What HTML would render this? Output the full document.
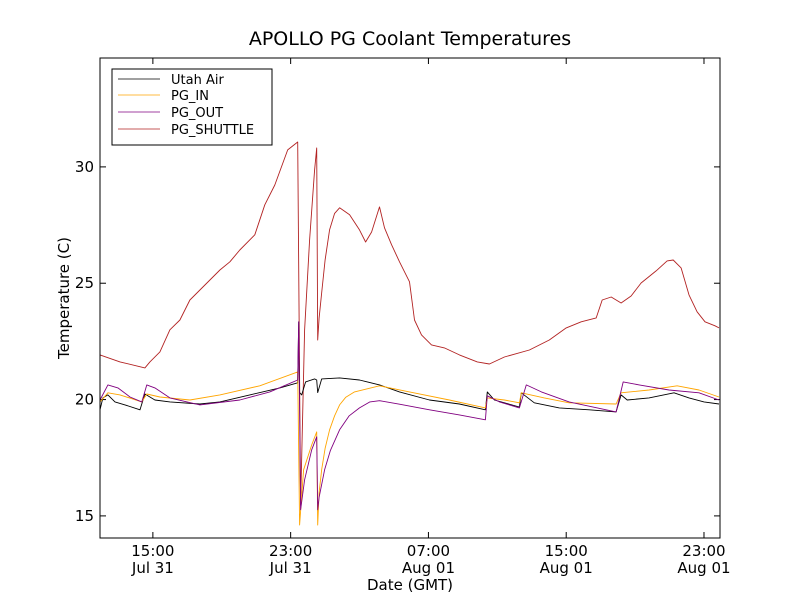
<!DOCTYPE html>
<html><head><meta charset="utf-8"><style>
body{margin:0;background:#fff;}
svg{display:block;font-family:"DejaVu Sans","Liberation Sans",sans-serif;}
</style></head><body>
<svg id="chart" width="800" height="600">
<rect width="800" height="600" fill="#fff"/>
<text x="410" y="45" text-anchor="middle" font-size="19">APOLLO PG Coolant Temperatures</text>
<g id="plot"></g>
<rect x="100" y="58" width="620" height="480" fill="none" stroke="#000" stroke-width="1"/>
<text x="410" y="590" text-anchor="middle" font-size="15">Date (GMT)</text>
<text transform="translate(69,298) rotate(-90)" text-anchor="middle" font-size="15">Temperature (C)</text>
<g>
<rect x="112" y="69" width="160" height="76" fill="#fff" stroke="#000" stroke-width="1"/>
<g><line x1="118" y1="79" x2="160" y2="79" stroke="#000" stroke-width="0.8"/><text x="171" y="84" font-size="13">Utah Air</text></g>
<g><line x1="118" y1="95" x2="160" y2="95" stroke="#ffa500" stroke-width="0.8"/><text x="171" y="100" font-size="13">PG_IN</text></g>
<g><line x1="118" y1="112" x2="160" y2="112" stroke="#800080" stroke-width="0.8"/><text x="171" y="117" font-size="13">PG_OUT</text></g>
<g><line x1="118" y1="129" x2="160" y2="129" stroke="#b22222" stroke-width="0.8"/><text x="171" y="134" font-size="13">PG_SHUTTLE</text></g>
</g>
</svg>
<script>
// hours since Jul 31 00:00 GMT
const xTickHours=[15,23,31,39,47];
const xTickTimes=["15:00","23:00","07:00","15:00","23:00"];
const xTickDates=["Jul 31","Jul 31","Aug 01","Aug 01","Aug 01"];
const yTicks=[15,20,25,30];
const shuttleH=[11.93,13.09,14.54,14.83,15.41,15.99,16.57,17.15,17.73,18.31,18.89,19.47,20.05,20.92,21.5,22.08,22.83,23.41,23.58,23.81,24.1,24.39,24.51,24.57,24.65,24.8,25.0,25.26,25.55,25.84,26.42,27.0,27.35,27.7,28.16,28.45,28.86,29.32,29.9,30.19,30.6,31.18,31.93,32.8,33.84,34.54,35.41,36.86,38.02,39.0,39.87,40.74,41.09,41.61,42.19,42.77,43.35,44.22,44.86,45.21,45.67,46.13,46.6,47.06,47.64,47.87];
const shuttleT=[21.92,21.62,21.36,21.62,22.05,23.0,23.42,24.28,24.71,25.14,25.57,25.92,26.43,27.08,28.37,29.22,30.73,31.07,15.47,22.99,26.86,29.87,30.81,22.56,23.5,24.6,26.0,27.3,28.0,28.24,27.94,27.29,26.77,27.2,28.28,27.38,26.65,25.92,25.06,23.42,22.78,22.35,22.22,21.92,21.62,21.53,21.83,22.13,22.56,23.08,23.34,23.51,24.28,24.41,24.15,24.45,25.01,25.53,25.96,26.0,25.66,24.5,23.77,23.34,23.17,23.08];
const airH=[11.93,12.1,12.39,12.8,13.38,14.25,14.54,15.12,15.99,17.73,18.89,20.63,22.37,23.41,23.47,23.52,23.64,23.87,24.39,24.51,24.57,24.8,25.84,27.0,28.16,29.32,31.06,32.8,34.31,34.42,34.83,36.28,36.39,37.15,38.6,40.34,41.9,42.19,42.54,43.81,45.26,46.13,47.0,47.87];
const airT=[19.56,20.07,20.2,19.9,19.77,19.56,20.24,19.98,19.9,19.81,19.9,20.2,20.5,20.72,23.34,20.3,20.2,20.76,20.89,20.84,20.3,20.89,20.93,20.84,20.63,20.33,19.98,19.81,19.56,20.33,19.98,19.68,20.29,19.86,19.64,19.56,19.47,20.2,19.98,20.07,20.29,20.07,19.9,19.81];
const inH=[11.93,12.39,13.09,14.36,14.65,15.41,17.15,18.89,21.21,23.41,23.52,23.75,24.22,24.51,24.57,24.65,24.8,25.0,25.26,25.55,25.84,26.2,26.71,28.16,29.9,32.22,34.31,34.42,35.41,36.28,36.39,37.73,39.17,41.9,42.19,43.81,45.44,46.71,47.87];
const inT=[19.9,20.29,20.2,19.9,20.24,20.11,19.98,20.2,20.59,21.19,14.61,16.98,18.05,18.61,14.61,16.0,17.0,17.9,18.7,19.3,19.77,20.1,20.33,20.59,20.33,19.98,19.64,20.07,19.98,19.86,20.29,20.07,19.86,19.81,20.29,20.41,20.59,20.41,20.11];
const outH=[11.93,12.39,12.97,13.67,14.36,14.65,15.12,15.99,17.73,20.05,21.79,23.41,23.47,23.58,23.81,24.22,24.51,24.57,24.65,24.97,25.3,25.84,26.4,27.0,27.6,28.16,29.32,31.06,32.8,34.31,34.42,35.12,36.28,36.68,37.56,39.17,41.9,42.31,43.24,44.97,46.71,47.87];
const outT=[19.98,20.63,20.5,20.11,19.9,20.63,20.5,20.07,19.77,19.98,20.33,20.84,23.34,15.26,16.55,17.84,18.4,15.26,15.8,16.98,17.8,18.7,19.3,19.64,19.9,19.95,19.8,19.56,19.34,19.13,20.16,19.9,19.64,20.63,20.33,19.9,19.47,20.76,20.63,20.41,20.29,19.98];

const NS="http://www.w3.org/2000/svg";
const X0=100,X1=720,H0=11.93,H1=47.93;
const Y0=538,Y1=58,T0=14.05,T1=34.68;
function sx(h){return X0+(h-H0)/(H1-H0)*(X1-X0);}
function sy(t){return Y0-(t-T0)/(T1-T0)*(Y0-Y1);}
const plot=document.getElementById('plot');
function mk(tag,attrs){const e=document.createElementNS(NS,tag);for(const k in attrs)e.setAttribute(k,attrs[k]);return e;}

xTickHours.forEach((h,i)=>{
  const x=sx(h);
  const g=mk('g',{});
  
  
  g.appendChild(mk('line',{x1:x,y1:538,x2:x,y2:532,stroke:'#000'}));
  g.appendChild(mk('line',{x1:x,y1:58,x2:x,y2:64,stroke:'#000'}));
  const t1=mk('text',{x:x,y:556,'text-anchor':'middle','font-size':15});t1.textContent=xTickTimes[i];
  const t2=mk('text',{x:x,y:573,'text-anchor':'middle','font-size':15});t2.textContent=xTickDates[i];
  g.appendChild(t1);g.appendChild(t2);
  plot.appendChild(g);
});
yTicks.forEach(v=>{
  const y=sy(v);
  const g=mk('g',{});
  
  
  g.appendChild(mk('line',{x1:100,y1:y,x2:106,y2:y,stroke:'#000'}));
  g.appendChild(mk('line',{x1:720,y1:y,x2:714,y2:y,stroke:'#000'}));
  const t=mk('text',{x:94,y:y+5,'text-anchor':'end','font-size':15});t.textContent=v;
  g.appendChild(t);
  plot.appendChild(g);
});
function series(H,T,color,name){
  const d=H.map((h,i)=>(i?'L':'M')+sx(h).toFixed(1)+','+sy(T[i]).toFixed(1)).join(' ');
  const p=mk('path',{d:d,fill:'none',stroke:color,'stroke-width':0.9,'stroke-linejoin':'round'});
  
  
  plot.appendChild(p);
}
series(shuttleH,shuttleT,'#b22222','pg-shuttle-line');
series(airH,airT,'#000000','utah-air-line');
series(inH,inT,'#ffa500','pg-in-line');
series(outH,outT,'#800080','pg-out-line');
</script>
</body></html>
